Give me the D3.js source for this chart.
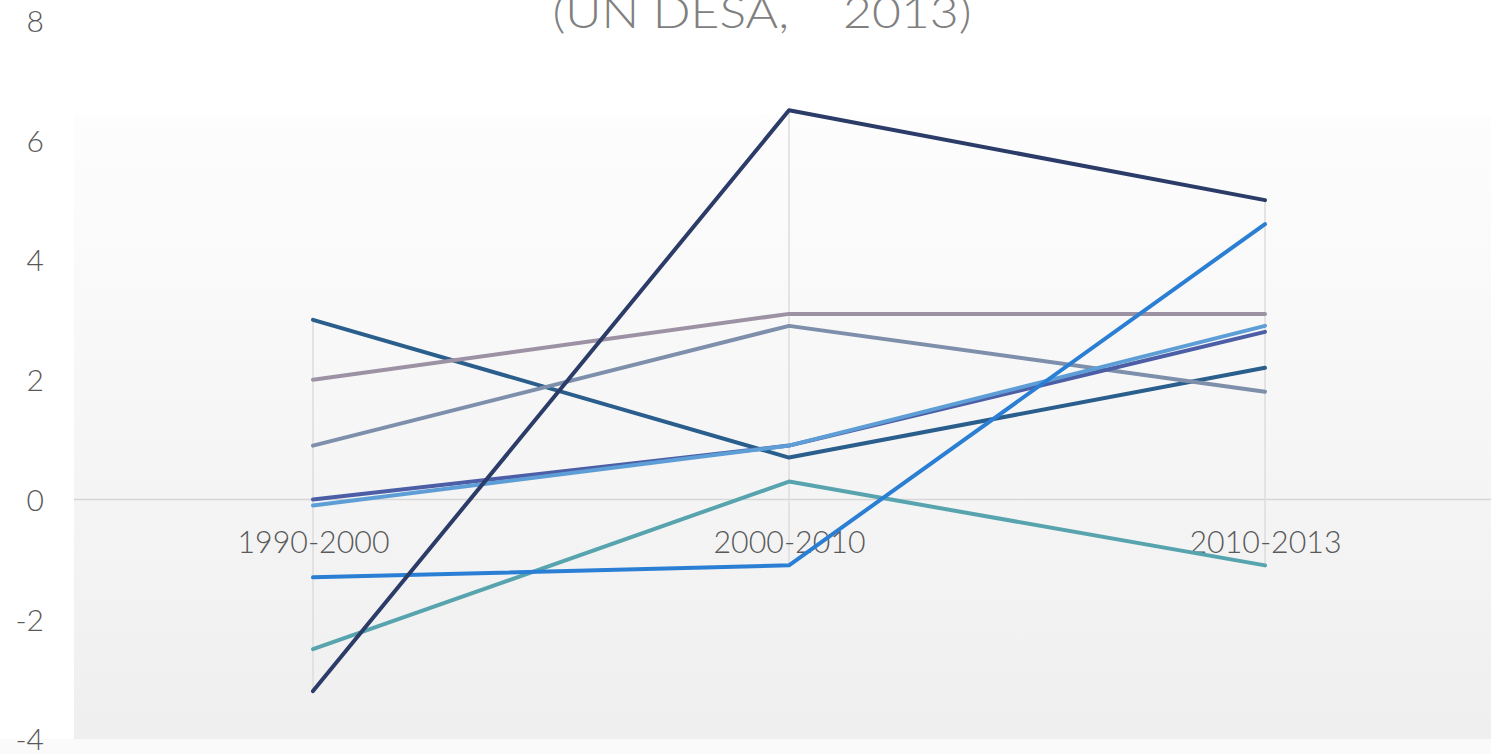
<!DOCTYPE html>
<html><head><meta charset="utf-8">
<script src="https://cdn.jsdelivr.net/npm/d3@7"></script>
<style>html,body{margin:0;padding:0;background:#fff;overflow:hidden}</style>
</head><body><svg id="c" width="1491" height="754"></svg>
<script>
const categories = ["1990-2000","2000-2010","2010-2013"];
const yTicks = [-4,-2,0,2,4,6,8];
const titleText = "(UN DESA,    2013)";
const seriesNames = ["s1","s2","s3","s4","s5","s6","s7","s8"];
const seriesColors = ["#57a4ae","#2a5e8c","#9d92a4","#7d8faa","#4b5ea6","#5e9ed6","#2a7fd5","#2b3c69"];
const seriesValues = [
  [-2.5, 0.3, -1.1],
  [3.0, 0.7, 2.2],
  [2.0, 3.1, 3.1],
  [0.9, 2.9, 1.8],
  [0.0, 0.9, 2.8],
  [-0.1, 0.9, 2.9],
  [-1.3, -1.1, 4.6],
  [-3.2, 6.5, 5.0]
];

const svg = d3.select("#c");
const W = 1491, H = 754;
const plotL = 74, plotR = 1503, plotTop = 115, plotBot = 739;
const FONT = "Lato, 'Open Sans', sans-serif";

const x = d3.scalePoint().domain(categories).range([313, 1265]);
const y = d3.scaleLinear().domain([-4, 8]).range([739, 20.5]);

const defs = svg.append("defs");
const g = defs.append("linearGradient").attr("id","bg").attr("x1",0).attr("x2",0).attr("y1",0).attr("y2",1);
g.append("stop").attr("offset","0%").attr("stop-color","#fdfdfd");
g.append("stop").attr("offset","100%").attr("stop-color","#efefef");

svg.append("rect").attr("x",0).attr("y",0).attr("width",W).attr("height",H).attr("fill","#ffffff");
svg.append("rect").attr("x",0).attr("y",plotBot).attr("width",W).attr("height",H-plotBot).attr("fill","#fafafa");
svg.append("rect").attr("x",plotL).attr("y",plotTop).attr("width",plotR-plotL).attr("height",plotBot-plotTop).attr("fill","url(#bg)");

// zero line
svg.append("line").attr("x1",plotL).attr("x2",plotR).attr("y1",y(0)).attr("y2",y(0))
  .attr("stroke","#d6d6d6").attr("stroke-width",1.5);

// high-low drop lines
categories.forEach((c,i)=>{
  const vals = seriesValues.map(s=>s[i]);
  svg.append("line").attr("x1",x(c)).attr("x2",x(c))
    .attr("y1",y(d3.max(vals))).attr("y2",y(d3.min(vals)))
    .attr("stroke","#dcdcdc").attr("stroke-width",1.5);
});

// y axis labels
const yAxis = d3.axisLeft(y).tickValues(yTicks).tickSize(0).tickPadding(0).tickFormat(d=>String(d));
const ya = svg.append("g").attr("transform","translate(44,0)").call(yAxis);
ya.select(".domain").remove();
ya.selectAll("text").attr("font-family",FONT).attr("font-weight",300).attr("font-size",30)
  .attr("fill","#595959").attr("dy","0.36em");

// category labels
const xAxis = d3.axisBottom(x).tickSize(0).tickPadding(0);
const xa = svg.append("g").attr("transform","translate(0,553)").call(xAxis);
xa.select(".domain").remove();
xa.selectAll("text").attr("font-family",FONT).attr("font-weight",300).attr("font-size",31)
  .attr("fill","#595959").attr("dy","0").attr("textLength",152).attr("lengthAdjust","spacingAndGlyphs");

// lines
const line = d3.line().x((d,i)=>x(categories[i])).y(d=>y(d));
seriesValues.forEach((s,k)=>{
  svg.append("path").datum(s).attr("d",line).attr("fill","none")
    .attr("stroke",seriesColors[k]).attr("stroke-width",4)
    .attr("stroke-linecap","round").attr("stroke-linejoin","round");
});

// title
svg.append("text").attr("x",762).attr("y",28).attr("text-anchor","middle")
  .attr("font-family",FONT).attr("font-weight",300).attr("font-size",44).attr("fill","#808080")
  .attr("textLength",419).attr("lengthAdjust","spacingAndGlyphs")
  .style("white-space","pre").text(titleText);
</script></body></html>
